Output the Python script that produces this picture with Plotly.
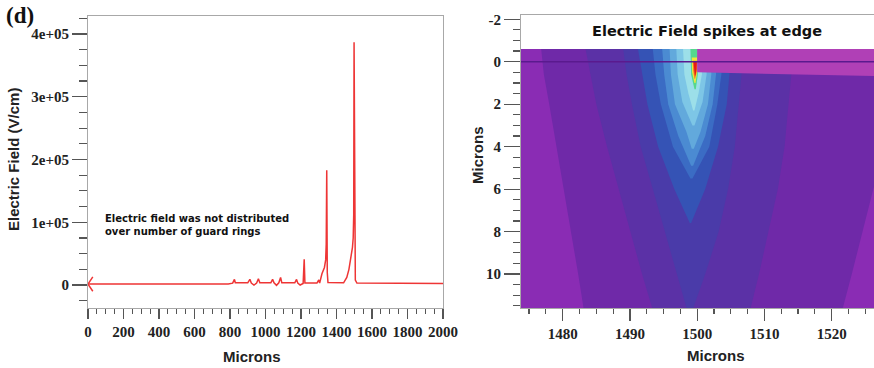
import plotly.graph_objects as go

# ---------------- Left panel data: electric field along the surface ----------------
pos_um = [0, 790, 815, 825, 830, 900, 912, 920, 935, 950, 960, 968, 1030, 1040, 1048,
          1062, 1075, 1085, 1092, 1165, 1175, 1182, 1195, 1212, 1218, 1222, 1290, 1300,
          1305, 1318, 1332, 1339, 1342, 1345, 1348, 1352, 1440, 1458, 1470, 1480, 1490,
          1494, 1497, 1499, 1502, 1506, 1515, 2000]
efield = [1500, 1500, 3000, 9000, 3500, 3500, 9000, 3000, 0, 3000, 10000, 3500, 3500, 9000, 3500,
          -500, 3500, 12000, 3500, 3500, 9000, 3000, 0, 2500, 41000, 3000, 3000, 8000,
          3000, 18000, 28000, 40000, 65000, 183000, 20000, 4000, 3500, 12000, 25000, 40000, 60000,
          75000, 112000, 387000, 40000, 8000, 3000, 2500]

left_xticks = [0, 200, 400, 600, 800, 1000, 1200, 1400, 1600, 1800, 2000]
left_yticks = [0, 100000, 200000, 300000, 400000]
left_yticktext = ["0", "1e+05", "2e+05", "3e+05", "4e+05"]

# ---------------- Right panel data: field-level bands (depth, left x, right x) ----------------
band_colors = ["#8a2cb4", "#6f29a8", "#5b31a6", "#4a3ba9", "#3553b5", "#3b6cc4", "#4b8bd2",
               "#62a9dc", "#7dc6e6", "#9cdfe9", "#55d88e", "#f0e63c", "#f08020", "#e61818"]
band_L0 = [(-0.6, 1470, 1530), (11.8, 1470, 1530)]
band_L1 = [(-0.6, 1476.8, 1532), (0.6, 1477.2, 1531), (2, 1478.0, 1530), (4, 1479.1, 1528),
           (6, 1480.2, 1526.2), (8, 1481.3, 1524.6), (10, 1482.3, 1523.0), (11.8, 1483.2, 1521.5)]
band_L2 = [(-0.6, 1483.4, 1514.2), (0.6, 1484.1, 1514.0), (2, 1485.0, 1513.6), (4, 1486.6, 1513.0),
           (6, 1488.3, 1512.0), (8, 1490.0, 1510.6), (10, 1491.8, 1509.2), (11.8, 1493.5, 1507.8)]
band_L3 = [(-0.6, 1489.0, 1506.8), (0.6, 1489.5, 1506.6), (2, 1490.3, 1506.2), (4, 1491.6, 1505.6),
           (6, 1493.4, 1504.6), (8, 1495.2, 1503.2), (10, 1497.0, 1501.2), (11.8, 1498.6, 1499.2)]
band_L4 = [(-0.6, 1491.2, 1505.0), (0.6, 1491.8, 1504.8), (2, 1492.6, 1504.4), (4, 1494.2, 1503.1),
           (6, 1496.6, 1501.2), (7.6, 1498.9, 1499.1)]
band_L5 = [(-0.6, 1493.4, 1503.8), (0.6, 1493.8, 1503.6), (2, 1494.6, 1503.0), (4, 1496.4, 1501.8),
           (5.5, 1499.0, 1499.3)]
band_L6 = [(-0.6, 1494.8, 1502.9), (0.6, 1495.1, 1502.8), (2, 1495.7, 1502.3), (3.5, 1497.2, 1501.2),
           (4.9, 1499.1, 1499.4)]
band_L7 = [(-0.6, 1495.9, 1502.2), (0.6, 1496.1, 1502.1), (2, 1496.7, 1501.6), (3.3, 1498.4, 1500.5),
           (4.1, 1499.2, 1499.5)]
band_L8 = [(-0.6, 1496.9, 1501.5), (0.6, 1497.1, 1501.4), (1.9, 1497.8, 1500.8), (3.0, 1499.3, 1499.6)]
band_L9 = [(-0.6, 1497.9, 1500.8), (0.6, 1498.1, 1500.7), (1.5, 1498.7, 1500.2), (2.3, 1499.4, 1499.6)]
band_L10 = [(-0.6, 1499.0, 1500.1), (0.6, 1499.1, 1500.1), (1.3, 1499.6, 1499.8)]
band_L11 = [(-0.2, 1499.2, 1500.0), (0.5, 1499.25, 1500.0), (1.0, 1499.6, 1499.75)]
band_L12 = [(-0.05, 1499.35, 1500.0), (0.4, 1499.4, 1500.0), (0.8, 1499.6, 1499.7)]
band_L13 = [(0.0, 1499.45, 1499.95), (0.35, 1499.5, 1499.9), (0.65, 1499.65, 1499.75)]
bands = [band_L0, band_L1, band_L2, band_L3, band_L4, band_L5, band_L6, band_L7,
         band_L8, band_L9, band_L10, band_L11, band_L12, band_L13]

oxide_x = [1500, 1530, 1530, 1500]
oxide_y = [-0.6, -0.6, 0.7, 0.5]
interface_x = [1470, 1530]
interface_y = [0, 0]

right_xticks = [1480, 1490, 1500, 1510, 1520]
right_yticks = [-2, 0, 2, 4, 6, 8, 10]
right_yticktext = ["-2", "0", "2", "4", "6", "8", "10"]

# ---------------- Figure ----------------
W, H = 874, 368
fig = go.Figure()

red = "#ee3535"
fig.add_trace(go.Scatter(x=pos_um, y=efield, mode="lines", line=dict(color=red, width=1.5),
                         xaxis="x", yaxis="y", hoverinfo="skip"))
fig.add_trace(go.Scatter(x=[pos_um[0]], y=[efield[0]], mode="markers",
                         marker=dict(symbol="y-left", size=12, color=red,
                                     line=dict(color=red, width=1.5)),
                         xaxis="x", yaxis="y", hoverinfo="skip"))

for rows, col in zip(bands, band_colors):
    xs = [r[1] for r in rows] + [r[2] for r in rows[::-1]]
    ys = [r[0] for r in rows] + [r[0] for r in rows[::-1]]
    fig.add_trace(go.Scatter(x=xs, y=ys, mode="lines", fill="toself", fillcolor=col,
                             line=dict(width=0, color=col), xaxis="x2", yaxis="y2",
                             hoverinfo="skip"))

fig.add_trace(go.Scatter(x=oxide_x, y=oxide_y, mode="lines", fill="toself", fillcolor="#b040b6",
                         line=dict(width=0, color="#b040b6"), xaxis="x2", yaxis="y2",
                         hoverinfo="skip"))
fig.add_trace(go.Scatter(x=interface_x, y=interface_y, mode="lines",
                         line=dict(width=1.6, color="#5a1a8e"), xaxis="x2", yaxis="y2",
                         hoverinfo="skip"))

def px_x(p):
    return p / W

def px_y(p):
    return 1 - p / H

tickfont = dict(family="Liberation Serif", size=15, color="#222222", weight="bold")
frame = "#a8a8a8"
tickc = "#555555"
common = dict(showgrid=False, zeroline=False, tickfont=tickfont, automargin=False,
              showline=True, linecolor=frame, linewidth=1, ticks="outside",
              tickcolor=tickc, tickwidth=1.2, tickmode="array")

fig.update_layout(
    width=W, height=H, autosize=False, margin=dict(l=0, r=0, t=0, b=0, pad=0),
    paper_bgcolor="white", plot_bgcolor="white", showlegend=False,
    xaxis=dict(domain=[px_x(88), px_x(443)], range=[0, 2000], anchor="y",
               tickvals=left_xticks, ticktext=[str(v) for v in left_xticks],
               mirror=True, ticklen=10,
               minor=dict(tickmode="linear", tick0=0, dtick=50, ticks="outside", ticklen=5,
                          tickcolor=tickc), **common),
    yaxis=dict(domain=[px_y(308), px_y(16)], range=[-36650, 428700], anchor="x",
               tickvals=left_yticks, ticktext=left_yticktext,
               mirror=True, ticklen=15,
               minor=dict(tickmode="linear", tick0=0, dtick=25000, ticks="outside", ticklen=8,
                          tickcolor=tickc), **common),
    xaxis2=dict(domain=[px_x(521), 1.0], range=[1473.8, 1526.3], anchor="y2",
                tickvals=right_xticks, ticktext=[str(v) for v in right_xticks],
                mirror=True, ticklen=12,
                minor=dict(tickmode="linear", tick0=1480, dtick=2.5, ticks="outside", ticklen=5,
                           tickcolor=tickc), **common),
    yaxis2=dict(domain=[px_y(308), px_y(15)], range=[11.6, -2.2], anchor="x2",
                tickvals=right_yticks, ticktext=right_yticktext,
                mirror=False, ticklen=16,
                minor=dict(tickmode="linear", tick0=0, dtick=0.5, ticks="outside", ticklen=7,
                           tickcolor=tickc), **common),
)

sans_bold = dict(family="Liberation Sans", size=15, color="#222222", weight="bold")
ann = [
    dict(text="(d)", x=px_x(20), y=px_y(15), font=dict(family="Liberation Serif", size=23,
                                                       color="#111111", weight="bold")),
    dict(text="Microns", x=px_x(252), y=px_y(356), font=sans_bold),
    dict(text="Electric Field (V/cm)", x=px_x(14), y=px_y(160), textangle=-90, font=sans_bold),
    dict(text="Microns", x=px_x(716), y=px_y(355), font=sans_bold),
    dict(text="Microns", x=px_x(477), y=px_y(155), textangle=-90, font=sans_bold),
    dict(text="Electric Field spikes at edge", x=px_x(707), y=px_y(31),
         font=dict(family="DejaVu Sans", size=14.5, color="#111111", weight="bold")),
    dict(text="Electric field was not distributed<br>over number of guard rings",
         x=px_x(103), y=px_y(225), xanchor="left", align="left",
         font=dict(family="DejaVu Sans", size=10, color="#111111", weight="bold")),
]
for a in ann:
    a.setdefault("xanchor", "center")
    a.update(xref="paper", yref="paper", showarrow=False, yanchor="middle")
    fig.add_annotation(**a)

fig.write_html("out.html",
               config={"responsive": False, "displayModeBar": False, "staticPlot": True},
               post_script="document.body.style.margin='0';document.body.style.padding='0';"
                           "document.documentElement.style.overflow='hidden';"
                           "document.body.style.overflow='hidden';")
